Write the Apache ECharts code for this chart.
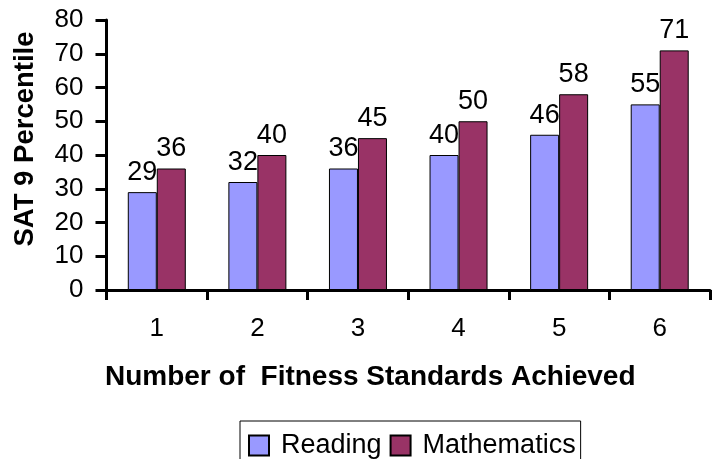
<!DOCTYPE html>
<html>
<head>
<meta charset="utf-8">
<script src="https://cdn.jsdelivr.net/npm/echarts@6/dist/echarts.min.js"></script>
<style>
  html, body { margin: 0; padding: 0; background: #fff; }
  #chart { width: 713px; height: 459px; }
</style>
</head>
<body>
<div id="chart"></div>
<script>
// Number of fitness standards achieved (categories)
const standards = ['1', '2', '3', '4', '5', '6'];
// SAT 9 percentile scores
const reading = [29, 32, 36, 40, 46, 55];
const mathematics = [36, 40, 45, 50, 58, 71];
const seriesNames = ['Reading', 'Mathematics'];

const FONT = '"Liberation Sans", Arial, Helvetica, sans-serif';
const INK = '#000';

const chart = echarts.init(document.getElementById('chart'));

const barLabel = {
  show: true,
  position: 'top',
  distance: 6,
  color: INK,
  fontFamily: FONT,
  fontSize: 27
};

chart.setOption({
  animation: false,
  backgroundColor: '#fff',
  textStyle: { fontFamily: FONT, color: INK },
  grid: { left: 106.5, right: 3, top: 20, bottom: 169 },
  legend: {
    data: seriesNames,
    left: 240,
    top: 421,
    orient: 'horizontal',
    icon: 'rect',
    itemWidth: 20,
    itemHeight: 20,
    itemGap: 8,
    padding: [11, 5, 30, 8],
    borderColor: '#000',
    borderWidth: 1,
    textStyle: { fontFamily: FONT, fontSize: 27, color: INK, padding: [0, 0, 0, 7] }
  },
  xAxis: {
    type: 'category',
    data: standards,
    boundaryGap: true,
    name: 'Number of  Fitness Standards Achieved',
    nameLocation: 'middle',
    nameGap: 73,
    nameTextStyle: {
      fontFamily: FONT, fontSize: 28, fontWeight: 'bold', color: INK,
      padding: [0, 76, 0, 0]
    },
    axisLine: { show: true, lineStyle: { color: '#000', width: 3 } },
    axisTick: { show: true, alignWithLabel: false, length: 10, lineStyle: { color: '#000', width: 3 } },
    axisLabel: { margin: 26, fontSize: 26, color: INK, fontFamily: FONT },
    splitLine: { show: false }
  },
  yAxis: {
    type: 'value',
    min: 0,
    max: 80,
    interval: 10,
    name: 'SAT 9 Percentile',
    nameLocation: 'middle',
    nameGap: 67,
    nameRotate: 90,
    nameTextStyle: {
      fontFamily: FONT, fontSize: 27.5, fontWeight: 'bold', color: INK,
      padding: [0, 0, 0, 32]
    },
    axisLine: { show: true, lineStyle: { color: '#000', width: 3 } },
    axisTick: { show: true, length: 11, lineStyle: { color: '#000', width: 3 } },
    axisLabel: { margin: 23, fontSize: 26, color: INK, fontFamily: FONT },
    splitLine: { show: false }
  },
  series: [
    {
      name: seriesNames[0],
      type: 'bar',
      data: reading,
      barWidth: 29,
      barGap: '0%',
      itemStyle: { color: '#9999FF', borderColor: '#000', borderWidth: 1 },
      label: barLabel
    },
    {
      name: seriesNames[1],
      type: 'bar',
      data: mathematics,
      barWidth: 29,
      barGap: '0%',
      itemStyle: { color: '#993366', borderColor: '#000', borderWidth: 1 },
      label: barLabel
    }
  ]
});
</script>
</body>
</html>
